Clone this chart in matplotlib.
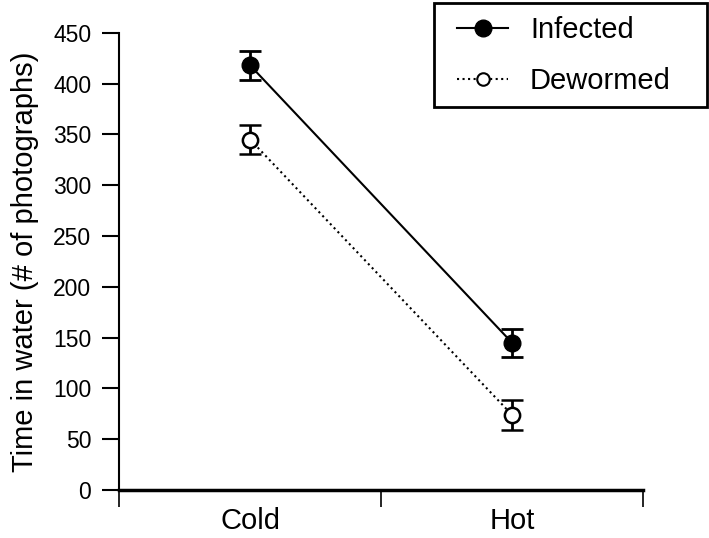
import matplotlib
matplotlib.use("Agg")
from matplotlib import pyplot as plt
from matplotlib.lines import Line2D
from matplotlib.patches import Rectangle

# data
temps = ["Cold", "Hot"]
infected = [418, 145]
infected_err = [14.5, 14]
dewormed = [345, 74]
dewormed_err = [14.5, 15]

plt.rcParams['font.family'] = ['Liberation Sans', 'DejaVu Sans']

W, H = 709, 538
fig = plt.figure(figsize=(W / 100, H / 100), dpi=100)
ax = fig.add_axes([0.168, 0.089, 0.739, 0.850])

xpos = [0.5, 1.5]
ax.errorbar(xpos, infected, yerr=infected_err, color='black', ls='-', lw=1.5,
            marker='o', ms=12, mfc='black', mec='black',
            elinewidth=2, capsize=8, capthick=2, zorder=3)
ax.errorbar(xpos, dewormed, yerr=dewormed_err, color='black', ls=':', lw=1.5,
            marker='o', ms=11, mfc='white', mec='black', mew=1.8,
            elinewidth=2, capsize=8, capthick=2, zorder=3)

ax.set_xlim(0, 2)
ax.set_ylim(0, 450)
ax.set_yticks(range(0, 451, 50))
ax.set_xticks([0, 1, 2])
ax.set_xticklabels([])
ax.set_xticks(xpos, minor=True)
ax.set_xticklabels(temps, minor=True, fontsize=21)
ax.tick_params(axis='x', which='minor', length=0, pad=12)
ax.tick_params(axis='x', which='major', length=12, width=1.2, direction='out')
ax.tick_params(axis='y', length=12, width=1.5, labelsize=16.5, pad=8)

for s in ['top', 'right']:
    ax.spines[s].set_visible(False)
ax.spines['left'].set_linewidth(1.5)
ax.spines['bottom'].set_linewidth(2.5)

ax.set_ylabel('Time in water (# of photographs)', fontsize=21, labelpad=10)

# legend: entries without frame, box drawn separately
handles = [
    Line2D([], [], color='black', ls='-', lw=1.5, marker='o', ms=12,
           mfc='black', mec='black'),
    Line2D([], [], color='black', ls=':', lw=1.5, marker='o', ms=9,
           mfc='white', mec='black', mew=1.5),
]
fig.legend(handles, ['Infected', 'Dewormed'], loc='upper left',
           bbox_to_anchor=(457 / W, 1 - 16 / H), borderaxespad=0,
           fontsize=21, frameon=False,
           handlelength=1.75, handletextpad=0.75, labelspacing=0.78,
           borderpad=0)
fig.patches.append(Rectangle((434 / W, 1 - 107 / H), 273 / W, 104 / H,
                             transform=fig.transFigure, fill=False,
                             edgecolor='black', lw=2))

fig.savefig('out.png', dpi=100)
